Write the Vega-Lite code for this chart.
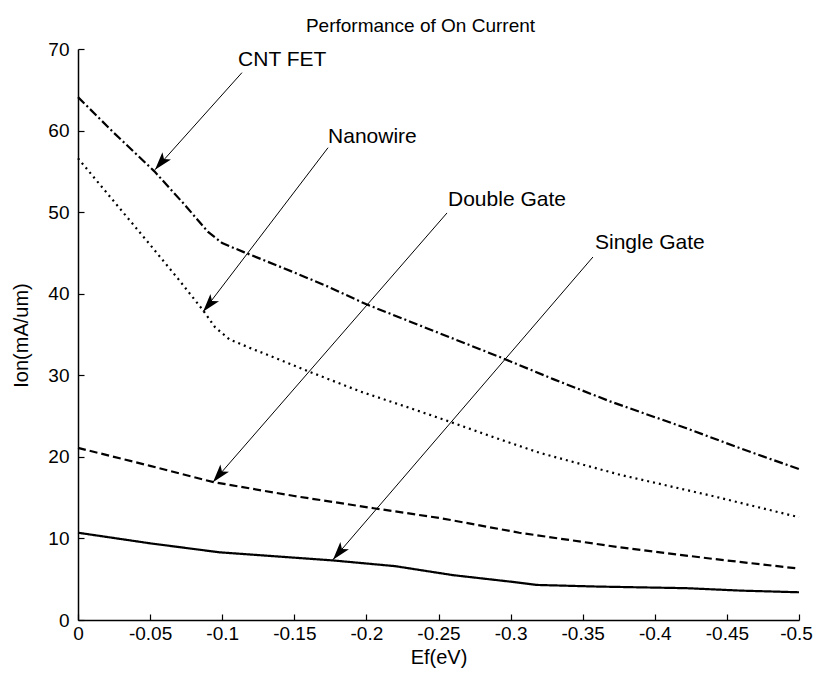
{
  "$schema": "https://vega.github.io/schema/vega-lite/v6.json",
  "width": 721,
  "height": 571,
  "autosize": "none",
  "padding": {"left": 78, "top": 49, "right": 16, "bottom": 58},
  "background": "white",
  "config": {
    "view": {"stroke": null},
    "font": "Liberation Sans",
    "axis": {
      "grid": false,
      "domainColor": "black",
      "domainWidth": 1.5,
      "tickColor": "black",
      "tickWidth": 1.2,
      "tickSize": -6,
      "labelColor": "black",
      "labelFontSize": 19,
      "labelFont": "Liberation Sans",
      "labelFlush": false,
      "labelOverlap": false,
      "titleFont": "Liberation Sans",
      "titleFontSize": 20,
      "titleFontWeight": "normal",
      "titleColor": "black"
    }
  },
  "title": {
    "text": "Performance of On Current",
    "fontSize": 19,
    "fontWeight": "normal",
    "font": "Liberation Sans",
    "color": "black",
    "offset": 4,
    "dx": -18
  },
  "datasets": {
    "curves": [
      {"series": "CNT FET", "ef": 0, "ion": 64.1},
      {"series": "CNT FET", "ef": -0.025, "ion": 59.7},
      {"series": "CNT FET", "ef": -0.053, "ion": 55.0},
      {"series": "CNT FET", "ef": -0.075, "ion": 50.7},
      {"series": "CNT FET", "ef": -0.09, "ion": 47.6},
      {"series": "CNT FET", "ef": -0.1, "ion": 46.2},
      {"series": "CNT FET", "ef": -0.115, "ion": 45.1},
      {"series": "CNT FET", "ef": -0.15, "ion": 42.6},
      {"series": "CNT FET", "ef": -0.173, "ion": 40.9},
      {"series": "CNT FET", "ef": -0.2, "ion": 38.7},
      {"series": "CNT FET", "ef": -0.25, "ion": 35.2},
      {"series": "CNT FET", "ef": -0.293, "ion": 32.2},
      {"series": "CNT FET", "ef": -0.33, "ion": 29.5},
      {"series": "CNT FET", "ef": -0.369, "ion": 26.8},
      {"series": "CNT FET", "ef": -0.422, "ion": 23.5},
      {"series": "CNT FET", "ef": -0.46, "ion": 21.0},
      {"series": "CNT FET", "ef": -0.5, "ion": 18.5},
      {"series": "Nanowire", "ef": 0, "ion": 56.6},
      {"series": "Nanowire", "ef": -0.025, "ion": 51.3},
      {"series": "Nanowire", "ef": -0.05, "ion": 46.0},
      {"series": "Nanowire", "ef": -0.07, "ion": 41.7},
      {"series": "Nanowire", "ef": -0.087, "ion": 37.9},
      {"series": "Nanowire", "ef": -0.095, "ion": 35.9},
      {"series": "Nanowire", "ef": -0.105, "ion": 34.4},
      {"series": "Nanowire", "ef": -0.12, "ion": 33.3},
      {"series": "Nanowire", "ef": -0.14, "ion": 31.9},
      {"series": "Nanowire", "ef": -0.161, "ion": 30.4},
      {"series": "Nanowire", "ef": -0.196, "ion": 28.0},
      {"series": "Nanowire", "ef": -0.23, "ion": 26.0},
      {"series": "Nanowire", "ef": -0.258, "ion": 24.3},
      {"series": "Nanowire", "ef": -0.29, "ion": 22.3},
      {"series": "Nanowire", "ef": -0.32, "ion": 20.5},
      {"series": "Nanowire", "ef": -0.376, "ion": 17.8},
      {"series": "Nanowire", "ef": -0.44, "ion": 15.2},
      {"series": "Nanowire", "ef": -0.5, "ion": 12.6},
      {"series": "Double Gate", "ef": 0, "ion": 21.1},
      {"series": "Double Gate", "ef": -0.05, "ion": 18.9},
      {"series": "Double Gate", "ef": -0.094, "ion": 16.9},
      {"series": "Double Gate", "ef": -0.15, "ion": 15.2},
      {"series": "Double Gate", "ef": -0.205, "ion": 13.7},
      {"series": "Double Gate", "ef": -0.251, "ion": 12.5},
      {"series": "Double Gate", "ef": -0.306, "ion": 10.7},
      {"series": "Double Gate", "ef": -0.376, "ion": 8.9},
      {"series": "Double Gate", "ef": -0.44, "ion": 7.5},
      {"series": "Double Gate", "ef": -0.5, "ion": 6.3},
      {"series": "Single Gate", "ef": 0, "ion": 10.7},
      {"series": "Single Gate", "ef": -0.05, "ion": 9.4},
      {"series": "Single Gate", "ef": -0.098, "ion": 8.3},
      {"series": "Single Gate", "ef": -0.177, "ion": 7.3},
      {"series": "Single Gate", "ef": -0.22, "ion": 6.6},
      {"series": "Single Gate", "ef": -0.26, "ion": 5.5},
      {"series": "Single Gate", "ef": -0.3, "ion": 4.7},
      {"series": "Single Gate", "ef": -0.318, "ion": 4.3},
      {"series": "Single Gate", "ef": -0.36, "ion": 4.1},
      {"series": "Single Gate", "ef": -0.422, "ion": 3.9},
      {"series": "Single Gate", "ef": -0.46, "ion": 3.6},
      {"series": "Single Gate", "ef": -0.5, "ion": 3.4}
    ],
    "notes": [
      {"series": "CNT FET", "ef": -0.0534, "ion": 55.2, "ef2": -0.1137, "ion2": 67.1, "tx": -0.111, "ty": 68.7},
      {"series": "Nanowire", "ef": -0.0867, "ion": 37.8, "ef2": -0.1734, "ion2": 57.9, "tx": -0.1734, "ty": 59.2},
      {"series": "Double Gate", "ef": -0.0936, "ion": 16.9, "ef2": -0.2559, "ion2": 49.9, "tx": -0.2566, "ty": 51.5},
      {"series": "Single Gate", "ef": -0.1768, "ion": 7.4, "ef2": -0.3571, "ion2": 44.5, "tx": -0.3585, "ty": 46.2}
    ]
  },
  "encoding": {
    "x": {
      "field": "ef",
      "type": "quantitative",
      "scale": {"domain": [-0.5, 0], "reverse": true, "nice": false},
      "axis": {
        "title": "Ef(eV)",
        "values": [0, -0.05, -0.1, -0.15, -0.2, -0.25, -0.3, -0.35, -0.4, -0.45, -0.5],
        "labelExpr": "datum.value == 0 ? '0' : '-' + format(-datum.value, '~g')",
        "labelPadding": 10,
        "labelOffset": {"condition": {"test": "datum.value == -0.5", "value": -3}, "value": 0},
        "titleY": 43,
        "titleBaseline": "alphabetic"
      }
    },
    "y": {
      "field": "ion",
      "type": "quantitative",
      "scale": {"domain": [0, 70], "nice": false},
      "axis": {
        "title": "Ion(mA/um)",
        "values": [0, 10, 20, 30, 40, 50, 60, 70],
        "labelPadding": 15,
        "titleX": -47,
        "titleY": 286,
        "titleAngle": 270,
        "titleAlign": "center",
        "titleBaseline": "bottom"
      }
    }
  },
  "layer": [
    {
      "data": {"name": "curves"},
      "mark": {"type": "line", "strokeWidth": 2.2, "color": "black"},
      "encoding": {
        "detail": {"field": "series"},
        "strokeDash": {
          "field": "series",
          "type": "nominal",
          "scale": {
            "domain": ["CNT FET", "Nanowire", "Double Gate", "Single Gate"],
            "range": [[9, 3, 2, 3], [2, 4], [8, 4], [1, 0]]
          },
          "legend": null
        }
      }
    },
    {
      "data": {"name": "notes"},
      "mark": {"type": "rule", "strokeWidth": 1, "color": "black"},
      "encoding": {
        "x2": {"field": "ef2"},
        "y2": {"field": "ion2"}
      }
    },
    {
      "data": {"name": "notes"},
      "mark": {"type": "point", "shape": "M0,0 L0.8,2.6 L0,2 L-0.8,2.6 Z", "filled": true, "color": "black", "opacity": 1, "size": 196, "angle": 220},
      "encoding": {}
    },
    {
      "data": {"name": "notes"},
      "mark": {"type": "text", "align": "left", "baseline": "middle", "fontSize": 21, "font": "Liberation Sans", "color": "black"},
      "encoding": {
        "x": {"field": "tx", "type": "quantitative"},
        "y": {"field": "ty", "type": "quantitative"},
        "text": {"field": "series"}
      }
    }
  ]
}
